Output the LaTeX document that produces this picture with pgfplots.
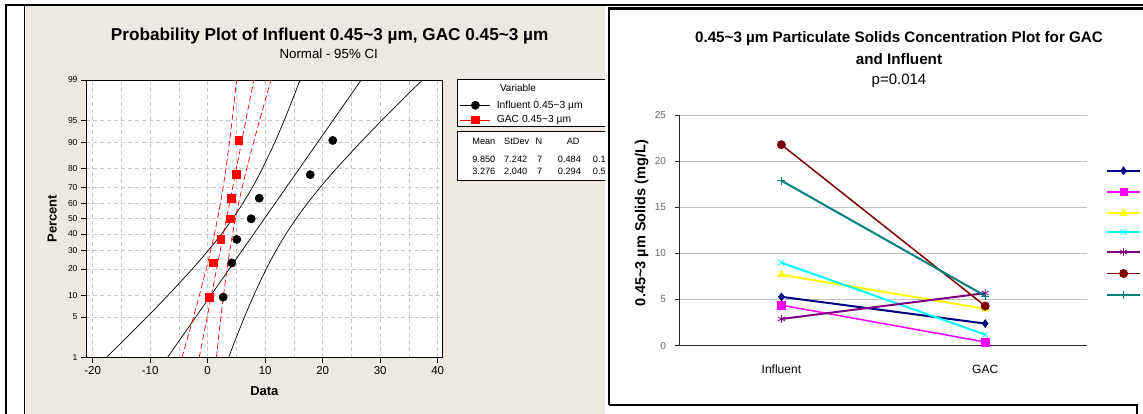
\documentclass[border=0pt]{standalone}
\usepackage{fontspec}
\setmainfont{Liberation Sans}
\usepackage{pgfplots}
\usepackage{pgfplotstable}
\pgfplotsset{compat=1.18}
\usetikzlibrary{plotmarks}

\definecolor{panel}{HTML}{EDE9E0}
\definecolor{gridgray}{HTML}{C8C8C8}
\definecolor{mtred}{HTML}{FF0000}
\definecolor{xlnavy}{HTML}{000080}
\definecolor{xlmag}{HTML}{FF00FF}
\definecolor{xlyel}{HTML}{FFFF00}
\definecolor{xlcyan}{HTML}{00FFFF}
\definecolor{xlpurp}{HTML}{800080}
\definecolor{xlbrown}{HTML}{800000}
\definecolor{xlteal}{HTML}{008080}
\definecolor{xlgrid}{HTML}{C0C0C0}

\newcommand{\fs}[1]{\fontsize{#1}{#1}\selectfont}
\newcommand{\tl}{\textasciitilde}

% sorted samples, y = normal score of (i-0.3)/(n+0.4)
\pgfplotstableread{
x z
2.70 -1.3129
4.19 -0.7396
5.07 -0.3451
7.57 0
8.98 0.3451
17.84 0.7396
21.75 1.3129
}\infpts
\pgfplotstableread{
x z
0.27 -1.3129
1.00 -0.7396
2.30 -0.3451
3.98 0
4.10 0.3451
5.00 0.7396
5.40 1.3129
}\gacpts
% fitted line and 95% CI bands
\pgfplotstableread{
z lo fit hi
-2.3263 -17.634 -6.997 3.640
-2.0 -14.205 -4.634 4.937
-1.6449 -10.538 -2.062 6.414
-1.2816 -6.888 0.569 8.026
-0.8416 -2.675 3.755 10.185
-0.5244 0.158 6.052 11.946
-0.2533 2.402 8.016 13.630
0 4.324 9.850 15.376
0.2533 6.070 11.684 17.298
0.5244 7.754 13.648 19.542
0.8416 9.515 15.945 22.375
1.2816 11.674 19.131 26.588
1.6449 13.286 21.762 30.238
2.0 14.763 24.334 33.905
2.3263 16.060 26.697 37.334
}\infband
\pgfplotstableread{
z lo fit hi
-2.3263 -4.467 -1.470 1.527
-2.0 -3.500 -0.804 1.892
-1.6449 -2.468 -0.080 2.308
-1.2816 -1.439 0.662 2.763
-0.8416 -0.252 1.559 3.370
-0.5244 0.546 2.206 3.866
-0.2533 1.178 2.759 4.340
0 1.719 3.276 4.833
0.2533 2.212 3.793 5.374
0.5244 2.686 4.346 6.006
0.8416 3.182 4.993 6.804
1.2816 3.789 5.890 7.991
1.6449 4.244 6.632 9.020
2.0 4.660 7.356 10.052
2.3263 5.025 8.022 11.019
}\gacband
% paired concentrations (mg/L): 0 = Influent, 1 = GAC
\pgfplotstableread{
x s1 s2 s3 s4 s5 s6 s7
0 5.3 4.4 7.7 9.0 2.9 21.8 17.9
1 2.4 0.4 4.0 1.2 5.7 4.3 5.4
}\solids

\begin{document}
\begin{tikzpicture}[x=1pt,y=1pt]
\useasboundingbox (0,0) rectangle (1143,414);
\clip (0,0) rectangle (1143,414);
\fill[white] (0,0) rectangle (1143,414);
\fill[panel] (25.5,0) rectangle (605,407.5);
\draw[line width=2pt] (6,0) -- (6,409) -- (1143,409);
\draw[line width=1.8pt] (24.5,0) -- (24.5,408);

% ---- Minitab probability plot ----
\node[font=\fs{17.2}\bfseries] at (329.7,378) {Probability Plot of Influent 0.45\tl3 µm, GAC 0.45\tl3 µm};
\node[font=\fs{13.3}] at (328.7,360.7) {Normal - 95\% CI};

\draw[fill=white, line width=0.8pt] (457,334.7) rectangle (640,287.3);
\draw[fill=white, line width=0.8pt] (457,282.3) rectangle (640,234);
\node[font=\fs{10}] at (518,326) {Variable};

\begin{axis}[
  at={(86pt,56.4pt)}, anchor=south west, scale only axis,
  width=356.7pt, height=277.6pt,
  xmin=-21.15, xmax=40.87, ymin=-2.3263, ymax=2.3263,
  axis background/.style={fill=white},
  xtick={-20,-10,...,40}, xticklabels={-20,-10,0,10,20,30,40},
  minor xtick={-15,-5,...,35},
  ytick={-2.3263,-1.6449,-1.2816,-0.8416,-0.5244,-0.2533,0,0.2533,0.5244,0.8416,1.2816,1.6449,2.3263},
  yticklabels={1,5,10,20,30,40,50,60,70,80,90,95,99},
  xmajorgrids, xminorgrids, ymajorgrids,
  grid style={gridgray, dash pattern=on 4pt off 3pt, line width=0.6pt},
  minor grid style={gridgray, dash pattern=on 4pt off 3pt, line width=0.6pt},
  tick align=outside, xtick pos=bottom, ytick pos=left,
  major tick length=5pt, minor tick length=0pt,
  tick style={black, line width=0.6pt},
  axis line style={black, line width=0.8pt},
  xticklabel style={font=\fs{11.5}},
  yticklabel style={font=\fs{8.5}},
  xlabel={Data}, ylabel={Percent},
  xlabel style={font=\fs{13}\bfseries, at={(axis description cs:0.5,-0.119)}, anchor=center},
  ylabel style={font=\fs{13}\bfseries, at={(axis description cs:-0.0947,0.5)}, anchor=center},
  legend style={at={(axis description cs:1.048,0.933)}, anchor=north west, draw=none, fill=none,
    font=\fs{10.3}, row sep=2pt, column sep=4pt, inner sep=0pt},
  legend cell align=left,
  legend image code/.code={\draw[sharp plot, mark repeat=2, mark phase=2] plot coordinates {(0pt,0pt) (15pt,0pt) (30pt,0pt)};},
]
\addplot[black, line width=0.7pt, smooth, forget plot] table[x=lo, y=z] {\infband};
\addplot[black, line width=0.7pt, forget plot] table[x=fit, y=z] {\infband};
\addplot[black, line width=0.7pt, smooth, forget plot] table[x=hi, y=z] {\infband};
\addplot[mtred, line width=0.7pt, smooth, dash pattern=on 6pt off 3pt, forget plot] table[x=lo, y=z] {\gacband};
\addplot[mtred, line width=0.7pt, dash pattern=on 6pt off 3pt, forget plot] table[x=fit, y=z] {\gacband};
\addplot[mtred, line width=0.7pt, smooth, dash pattern=on 6pt off 3pt, forget plot] table[x=hi, y=z] {\gacband};
\addplot[black, only marks, mark=*, mark size=4pt, line width=0.8pt] table[x=x, y=z] {\infpts};
\addlegendentry{Influent 0.45\tl3 µm}
\addplot[mtred, only marks, mark=square*, mark size=3.8pt, line width=0.8pt] table[x=x, y=z] {\gacpts};
\addlegendentry{GAC 0.45\tl3 µm}
\end{axis}

\begin{scope}[font=\fs{9.2}]
\node[anchor=west] at (468.8,272.3) {Mean};
\node[anchor=west] at (500.7,272.3) {StDev};
\node at (539,272.3) {N};
\node[anchor=west] at (563.3,272.3) {AD};
\node[anchor=west] at (609,272.3) {P};
\node[anchor=west] at (468.8,255) {9.850};
\node[anchor=west] at (500.7,255) {7.242};
\node at (539.6,255) {7};
\node[anchor=west] at (554.4,255) {0.484};
\node[anchor=west] at (589.4,255) {0.159};
\node[anchor=west] at (468.8,242.3) {3.276};
\node[anchor=west] at (500.7,242.3) {2.040};
\node at (539.6,242.3) {7};
\node[anchor=west] at (554.4,242.3) {0.294};
\node[anchor=west] at (589.4,242.3) {0.505};
\end{scope}

% ---- Excel line chart ----
\fill[white] (605,0) rectangle (1143,408);
\draw[line width=2.2pt] (609,9) -- (609,405.5) -- (1143,405.5);
\draw[line width=2.2pt] (609,9) -- (1137,9) -- (1137,0);

\node[font=\fs{15.2}\bfseries] at (899,375) {0.45\tl3 µm Particulate Solids Concentration Plot for GAC};
\node[font=\fs{15.2}\bfseries] at (899,354.5) {and Influent};
\node[font=\fs{15}] at (899,333.3) {p=0.014};

\begin{axis}[
  at={(679.5pt,68.3pt)}, anchor=south west, scale only axis,
  width=407.6pt, height=230.5pt,
  xmin=-0.5, xmax=1.5, ymin=0, ymax=25,
  axis lines*=left,
  axis line style={black!85, line width=0.8pt},
  xtick={0,1}, xticklabels={Influent,GAC},
  extra x ticks={-0.5,0.5,1.5}, extra x tick labels={},
  extra x tick style={major tick length=5pt, tick style={black!85, line width=0.8pt}, grid=none},
  ytick={0,5,...,25},
  /pgf/number format/assume math mode=true,
  ymajorgrids, grid style={xlgrid, line width=0.8pt},
  tick align=outside, major tick length=5pt,
  x tick style={draw=none},
  y tick style={black!85, line width=0.8pt},
  xticklabel style={font=\fs{12}, yshift=-11pt},
  yticklabel style={font=\fs{10}, text=black!60, xshift=-5pt},
  ylabel={0.45\tl3 µm Solids (mg/L)},
  ylabel style={font=\fs{14.5}\bfseries, at={(axis description cs:-0.0927,0.532)}, anchor=center},
  legend style={at={(axis description cs:1.046,0.777)}, anchor=north west, draw=none, fill=none,
    font=\fs{9}, row sep=13.2pt, inner sep=0pt},
  legend image code/.code={\draw[mark repeat=2, mark phase=2] plot coordinates {(0pt,0pt) (16.5pt,0pt) (33pt,0pt)};},
]
\addplot[xlnavy, line width=2pt, mark=diamond*, mark size=4pt, mark options={solid, line width=0.5pt}] table[x=x, y=s1] {\solids};
\addlegendentry{}
\addplot[xlmag, line width=1.5pt, mark=square*, mark size=3.8pt, mark options={line width=0.5pt}] table[x=x, y=s2] {\solids};
\addlegendentry{}
\addplot[xlyel, line width=2pt, mark=triangle*, mark size=4.5pt, mark options={line width=0.5pt}] table[x=x, y=s3] {\solids};
\addlegendentry{}
\addplot[xlcyan, line width=2pt, mark=x, mark size=4pt, mark options={line width=0.8pt}] table[x=x, y=s4] {\solids};
\addlegendentry{}
\addplot[xlpurp, line width=2pt, mark=asterisk, mark size=4pt, mark options={line width=0.8pt}] table[x=x, y=s5] {\solids};
\addlegendentry{}
\addplot[xlbrown, line width=1.5pt, mark=*, mark size=4.2pt, mark options={line width=0.5pt}] table[x=x, y=s6] {\solids};
\addlegendentry{}
\addplot[xlteal, line width=2pt, mark=+, mark size=4pt, mark options={line width=0.8pt}] table[x=x, y=s7] {\solids};
\addlegendentry{}
\end{axis}
\end{tikzpicture}
\end{document}
